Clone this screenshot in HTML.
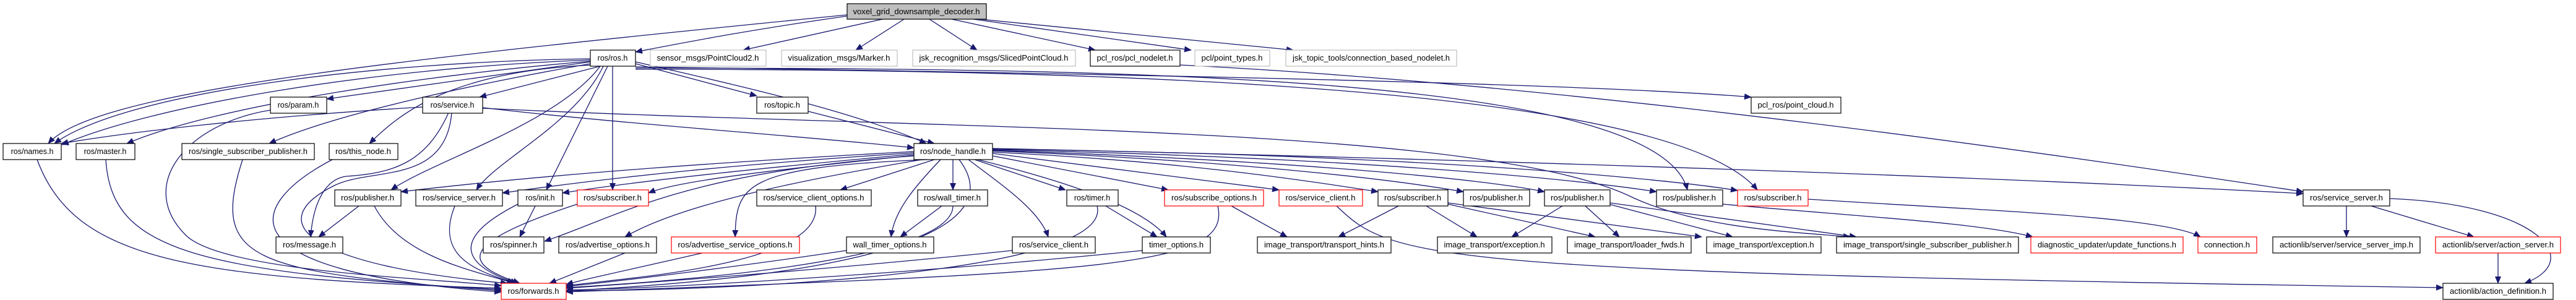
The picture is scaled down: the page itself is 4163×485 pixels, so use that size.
<!DOCTYPE html>
<html><head><meta charset="utf-8"><style>
html,body{margin:0;padding:0;background:#fff;}
svg{display:block;}
text{font-family:"Liberation Sans",sans-serif;font-size:12.5px;fill:#000;text-anchor:middle;}
.e{fill:none;stroke:#191970;stroke-width:1.3;marker-end:url(#a);}
.b{fill:#fff;stroke:#000;stroke-width:1.2;}
.g{fill:#fff;stroke:#bfbfbf;stroke-width:1.2;}
.r{fill:#fff;stroke:#ff0000;stroke-width:1.2;}
.s{fill:#555;}
</style></head><body>
<svg width="4163" height="485" viewBox="0 0 4163 485" xmlns="http://www.w3.org/2000/svg">
<defs><marker id="a" markerWidth="12" markerHeight="10" refX="11" refY="5" orient="auto" markerUnits="userSpaceOnUse"><path d="M0,0 L12,5 L0,10 z" fill="#191970"/></marker></defs>
<g>
<!-- voxel edges -->
<path class="e" d="M1369,26 C1200,50 1100,70 1027,84"/>
<path class="e" d="M1369,24 C600,100 150,150 78,232"/>
<path class="e" d="M1426,31 L1201,81"/>
<path class="e" d="M1461,31 L1383,81"/>
<path class="e" d="M1502,31 L1579,81"/>
<path class="e" d="M1538,31 L1770,81"/>
<path class="e" d="M1573,31 L1925,81"/>
<path class="e" d="M1573,30 L2090,81"/>
<!-- ros.h edges -->
<path class="e" d="M954,95 C600,100 200,150 88,232"/>
<path class="e" d="M954,97 C600,110 250,170 100,234"/>
<path class="e" d="M954,99 C700,120 350,170 205,232"/>
<path class="e" d="M954,100 L528,160"/>
<path class="e" d="M970,107 L775,157"/>
<path class="e" d="M954,103 C800,130 550,180 435,232"/>
<path class="e" d="M960,105 C720,115 640,190 597,232"/>
<path class="e" d="M970,107 C900,200 700,260 632,307"/>
<path class="e" d="M975,107 C930,200 800,260 770,307"/>
<path class="e" d="M982,107 L883,307"/>
<path class="e" d="M990,107 L990,307"/>
<path class="e" d="M1027,103 L1223,155"/>
<path class="e" d="M1027,100 C1200,140 1380,180 1497,232"/>
<path class="e" d="M1027,108 C1500,115 2500,130 2830,157"/>
<path class="e" d="M1027,110 C1800,110 2680,120 2727,307"/>
<path class="e" d="M1027,112 C1800,112 2700,140 2840,307"/>
<path class="e" d="M1907,105 C2400,130 3000,200 3722,310"/>
<!-- service.h -->
<path class="e" d="M683,173 C400,190 200,215 99,232"/>
<path class="e" d="M780,174 C1000,200 1300,220 1477,239"/>
<path class="e" d="M725,182 C690,260 640,280 560,285 C520,290 505,340 502,383"/>
<path class="e" d="M730,182 C720,300 600,270 540,300 C420,360 500,430 820,458"/>
<path class="e" d="M780,175 C1500,210 2400,200 2640,320 C2750,370 2900,375 2990,383"/>
<path class="e" d="M1306,180 L1510,232"/>
<!-- row2/3 to forwards -->
<path class="e" d="M437,178 C300,200 220,300 300,380 C360,440 700,450 810,462"/>
<path class="e" d="M60,258 C120,420 300,450 810,466"/>
<path class="e" d="M171,258 C180,400 300,440 810,468"/>
<path class="e" d="M392,258 C340,420 400,440 810,470"/>
<path class="e" d="M537,258 C400,330 350,440 810,472"/>
<!-- node_handle -->
<path class="e" d="M1477,245 C1200,260 900,280 648,310"/>
<path class="e" d="M1477,247 C1200,265 1000,285 812,312"/>
<path class="e" d="M1477,249 C1250,270 1050,290 909,312"/>
<path class="e" d="M1477,251 C1300,270 1100,290 1048,312"/>
<path class="e" d="M1477,252 C1100,280 1000,350 880,390"/>
<path class="e" d="M1490,258 C1300,290 1100,330 1010,383"/>
<path class="e" d="M1500,258 C1200,270 1190,300 1188,383"/>
<path class="e" d="M1510,258 L1358,307"/>
<path class="e" d="M1540,258 L1540,307"/>
<path class="e" d="M1520,258 C1480,300 1445,340 1440,383"/>
<path class="e" d="M1550,258 C1620,350 1500,440 915,470"/>
<path class="e" d="M1575,258 L1722,307"/>
<path class="e" d="M1565,258 C1620,300 1680,340 1694,383"/>
<path class="e" d="M1580,258 C1750,300 1850,340 1885,383"/>
<path class="e" d="M1604,252 L1888,307"/>
<path class="e" d="M1604,248 L2067,307"/>
<path class="e" d="M1604,246 C1900,260 2100,290 2227,310"/>
<path class="e" d="M1604,244 C2000,260 2250,290 2365,310"/>
<path class="e" d="M1604,243 C2100,260 2400,290 2496,310"/>
<path class="e" d="M1604,242 C2200,255 2550,290 2677,310"/>
<path class="e" d="M1604,241 C2300,250 2700,290 2808,308"/>
<path class="e" d="M1604,240 C2500,260 3300,290 3722,313"/>
<!-- row4 outs -->
<path class="e" d="M580,333 L515,383"/>
<path class="e" d="M605,333 C650,420 780,440 830,458"/>
<path class="e" d="M735,333 C700,420 780,440 832,458"/>
<path class="e" d="M865,333 L840,383"/>
<path class="e" d="M837,330 C700,400 780,440 836,458"/>
<path class="e" d="M933,330 C720,400 760,430 840,458"/>
<path class="e" d="M1318,333 C1330,430 1000,450 915,462"/>
<path class="e" d="M1522,333 L1455,383"/>
<path class="e" d="M1540,333 C1540,430 1000,460 915,465"/>
<path class="e" d="M1787,333 L1870,383"/>
<path class="e" d="M1773,333 C1800,440 1200,470 915,470"/>
<path class="e" d="M1968,333 C1990,430 1800,440 915,472"/>
<path class="e" d="M1990,333 L2080,383"/>
<path class="e" d="M2160,333 C2250,420 2300,440 3948,465"/>
<path class="e" d="M2260,333 L2163,383"/>
<path class="e" d="M2305,333 L2387,383"/>
<path class="e" d="M2340,330 L2578,383"/>
<path class="e" d="M2340,328 L2750,383"/>
<path class="e" d="M2525,333 L2443,383"/>
<path class="e" d="M2562,333 L2617,383"/>
<path class="e" d="M2600,330 L2800,383"/>
<path class="e" d="M2602,328 L3000,383"/>
<path class="e" d="M2784,330 C3000,350 3200,360 3285,383"/>
<path class="e" d="M2922,322 C3200,340 3500,350 3556,383"/>
<path class="e" d="M3792,333 L3792,383"/>
<path class="e" d="M3832,333 L3998,383"/>
<path class="e" d="M3862,321 C4100,330 4180,420 4080,458"/>
<path class="e" d="M4037,409 L4037,458"/>
<!-- row5 to forwards -->
<path class="e" d="M1010,409 L888,458"/>
<path class="e" d="M1135,409 C1000,440 950,450 915,460"/>
<path class="e" d="M1368,405 C1200,430 1000,455 915,463"/>
<path class="e" d="M1636,405 C1300,440 1000,460 915,466"/>
<path class="e" d="M1846,405 C1500,440 1100,465 915,469"/>
</g>
<g>
<!-- nodes -->
<rect x="1369" y="6" width="225" height="25" fill="#bfbfbf" stroke="#000" stroke-width="1.2"/><text x="1481" y="23" textLength="205" lengthAdjust="spacingAndGlyphs">voxel_grid_downsample_decoder.h</text>

<rect class="b" x="954" y="81" width="73" height="26"/><text x="990" y="98">ros/ros.h</text>
<rect class="g" x="1051" y="81" width="187" height="26"/><text x="1144" y="98" textLength="165" lengthAdjust="spacingAndGlyphs">sensor_msgs/PointCloud2.h</text>
<rect class="g" x="1263" y="81" width="187" height="26"/><text x="1356" y="98" textLength="165" lengthAdjust="spacingAndGlyphs">visualization_msgs/Marker.h</text>
<rect class="g" x="1475" y="81" width="263" height="26"/><text x="1606" y="98" textLength="241" lengthAdjust="spacingAndGlyphs">jsk_recognition_msgs/SlicedPointCloud.h</text>
<rect class="b" x="1762" y="81" width="145" height="26"/><text x="1834" y="98" textLength="123" lengthAdjust="spacingAndGlyphs">pcl_ros/pcl_nodelet.h</text>
<rect class="g" x="1931" y="81" width="121" height="26"/><text x="1991" y="98" textLength="99" lengthAdjust="spacingAndGlyphs">pcl/point_types.h</text>
<rect class="g" x="2078" y="81" width="276" height="26"/><text x="2216" y="98" textLength="254" lengthAdjust="spacingAndGlyphs">jsk_topic_tools/connection_based_nodelet.h</text>

<rect class="b" x="437" y="157" width="91" height="26"/><text x="482" y="174">ros/param.h</text>
<rect class="b" x="683" y="157" width="97" height="26"/><text x="731" y="174">ros/service.h</text>
<rect class="b" x="1223" y="157" width="83" height="26"/><text x="1264" y="174">ros/topic.h</text>
<rect class="b" x="2830" y="157" width="145" height="26"/><text x="2902" y="174" textLength="123" lengthAdjust="spacingAndGlyphs">pcl_ros/point_cloud.h</text>

<rect class="b" x="5" y="232" width="94" height="26"/><text x="52" y="249">ros/names.h</text>
<rect class="b" x="123" y="232" width="95" height="26"/><text x="170" y="249">ros/master.h</text>
<rect class="b" x="294" y="232" width="214" height="26"/><text x="401" y="249" textLength="192" lengthAdjust="spacingAndGlyphs">ros/single_subscriber_publisher.h</text>
<rect class="b" x="532" y="232" width="111" height="26"/><text x="587" y="249" textLength="90" lengthAdjust="spacingAndGlyphs">ros/this_node.h</text>
<rect class="b" x="1477" y="232" width="127" height="26"/><text x="1540" y="249" textLength="106" lengthAdjust="spacingAndGlyphs">ros/node_handle.h</text>

<rect class="b" x="541" y="307" width="107" height="26"/><text x="594" y="324" textLength="86" lengthAdjust="spacingAndGlyphs">ros/publisher.h</text>
<rect class="b" x="672" y="307" width="140" height="26"/><text x="742" y="324" textLength="118" lengthAdjust="spacingAndGlyphs">ros/service_server.h</text>
<rect class="b" x="837" y="307" width="72" height="26"/><text x="873" y="324">ros/init.h</text>
<rect class="r" x="933" y="307" width="115" height="26"/><text x="990" y="324" textLength="94" lengthAdjust="spacingAndGlyphs">ros/subscriber.h</text>
<rect class="b" x="1223" y="307" width="185" height="26"/><text x="1315" y="324" textLength="163" lengthAdjust="spacingAndGlyphs">ros/service_client_options.h</text>
<rect class="b" x="1483" y="307" width="113" height="26"/><text x="1539" y="324" textLength="92" lengthAdjust="spacingAndGlyphs">ros/wall_timer.h</text>
<rect class="b" x="1724" y="307" width="83" height="26"/><text x="1765" y="324">ros/timer.h</text>
<rect class="r" x="1882" y="307" width="160" height="26"/><text x="1962" y="324" textLength="138" lengthAdjust="spacingAndGlyphs">ros/subscribe_options.h</text>
<rect class="r" x="2067" y="307" width="135" height="26"/><text x="2134" y="324" textLength="113" lengthAdjust="spacingAndGlyphs">ros/service_client.h</text>
<rect class="b" x="2227" y="307" width="113" height="26"/><text x="2283" y="324" textLength="92" lengthAdjust="spacingAndGlyphs">ros/subscriber.h</text>
<rect class="b" x="2365" y="307" width="107" height="26"/><text x="2418" y="324" textLength="86" lengthAdjust="spacingAndGlyphs">ros/publisher.h</text>
<rect class="b" x="2496" y="307" width="106" height="26"/><text x="2549" y="324" textLength="86" lengthAdjust="spacingAndGlyphs">ros/publisher.h</text>
<rect class="b" x="2677" y="307" width="107" height="26"/><text x="2730" y="324" textLength="86" lengthAdjust="spacingAndGlyphs">ros/publisher.h</text>
<rect class="r" x="2808" y="307" width="114" height="26"/><text x="2865" y="324" textLength="93" lengthAdjust="spacingAndGlyphs">ros/subscriber.h</text>
<rect class="b" x="3722" y="307" width="140" height="26"/><text x="3792" y="324" textLength="118" lengthAdjust="spacingAndGlyphs">ros/service_server.h</text>

<rect class="b" x="446" y="383" width="108" height="26"/><text x="500" y="400" textLength="86" lengthAdjust="spacingAndGlyphs">ros/message.h</text>
<rect class="b" x="781" y="383" width="98" height="26"/><text x="830" y="400" textLength="76" lengthAdjust="spacingAndGlyphs">ros/spinner.h</text>
<rect class="b" x="903" y="383" width="158" height="26"/><text x="982" y="400" textLength="136" lengthAdjust="spacingAndGlyphs">ros/advertise_options.h</text>
<rect class="r" x="1085" y="383" width="207" height="26"/><text x="1188" y="400" textLength="185" lengthAdjust="spacingAndGlyphs">ros/advertise_service_options.h</text>
<rect class="b" x="1368" y="383" width="141" height="26"/><text x="1438" y="400" textLength="119" lengthAdjust="spacingAndGlyphs">wall_timer_options.h</text>
<rect class="b" x="1636" y="383" width="134" height="26"/><text x="1703" y="400" textLength="112" lengthAdjust="spacingAndGlyphs">ros/service_client.h</text>
<rect class="b" x="1846" y="383" width="110" height="26"/><text x="1901" y="400" textLength="88" lengthAdjust="spacingAndGlyphs">timer_options.h</text>
<rect class="b" x="2032" y="383" width="216" height="26"/><text x="2140" y="400" textLength="194" lengthAdjust="spacingAndGlyphs">image_transport/transport_hints.h</text>
<rect class="b" x="2323" y="383" width="185" height="26"/><text x="2415" y="400" textLength="163" lengthAdjust="spacingAndGlyphs">image_transport/exception.h</text>
<rect class="b" x="2533" y="383" width="200" height="26"/><text x="2633" y="400" textLength="178" lengthAdjust="spacingAndGlyphs">image_transport/loader_fwds.h</text>
<rect class="b" x="2758" y="383" width="185" height="26"/><text x="2850" y="400" textLength="163" lengthAdjust="spacingAndGlyphs">image_transport/exception.h</text>
<rect class="b" x="2968" y="383" width="294" height="26"/><text x="3115" y="400" textLength="272" lengthAdjust="spacingAndGlyphs">image_transport/single_subscriber_publisher.h</text>
<rect class="r" x="3282" y="383" width="246" height="26"/><text x="3405" y="400" textLength="224" lengthAdjust="spacingAndGlyphs">diagnostic_updater/update_functions.h</text>
<rect class="r" x="3552" y="383" width="95" height="26"/><text x="3599" y="400" textLength="74" lengthAdjust="spacingAndGlyphs">connection.h</text>
<rect class="b" x="3673" y="383" width="238" height="26"/><text x="3792" y="400" textLength="216" lengthAdjust="spacingAndGlyphs">actionlib/server/service_server_imp.h</text>
<rect class="r" x="3936" y="383" width="202" height="26"/><text x="4037" y="400" textLength="180" lengthAdjust="spacingAndGlyphs">actionlib/server/action_server.h</text>

<rect class="r" x="810" y="458" width="105" height="26"/><text x="862" y="475" textLength="83" lengthAdjust="spacingAndGlyphs">ros/forwards.h</text>
<rect class="b" x="3948" y="458" width="178" height="26"/><text x="4037" y="475" textLength="156" lengthAdjust="spacingAndGlyphs">actionlib/action_definition.h</text>
</g>
</svg>
</body></html>
